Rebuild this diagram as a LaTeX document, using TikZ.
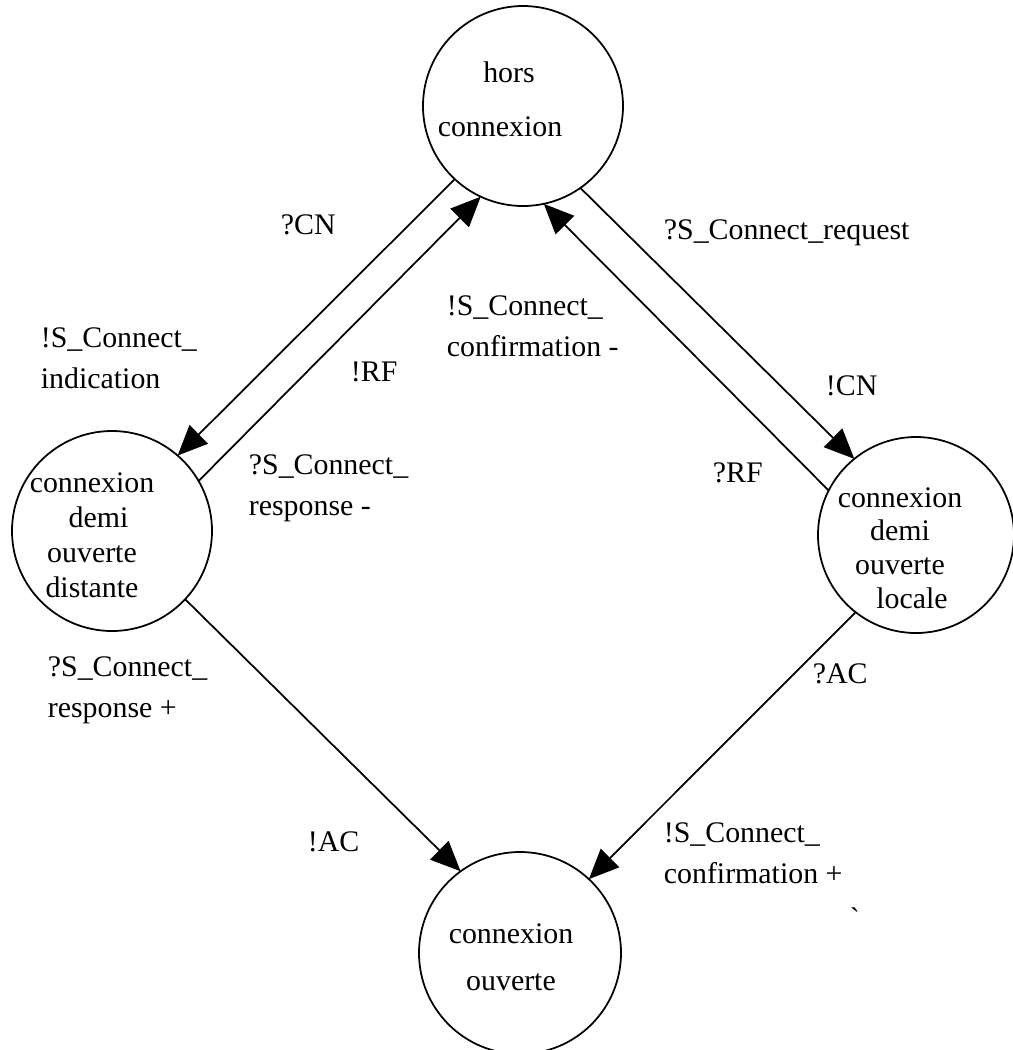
\documentclass[tikz,border=0pt]{standalone}
\usepackage{fontspec}
\setmainfont{Liberation Serif}
\usetikzlibrary{arrows.meta}

\begin{document}
\begin{tikzpicture}[x=0.2mm, y=-0.2mm, line width=1pt, >={Triangle[length=6mm, width=5.2mm]},
  font=\fontsize{17}{23.3}\selectfont,
  state/.style={draw, circle, inner sep=0pt, outer sep=0pt, minimum size=#1},
  state/.default=4cm,
  statetxt/.style={align=center, inner sep=0pt},
  lbl/.style={anchor=west, align=left, inner sep=0pt}]

\useasboundingbox (0,0) rectangle (1013,1050);

\node[state] (hors) at (523,106) {};
\node[state] (dist) at (112,531) {};
\node[state=3.92cm] (loc) at (916,535) {};
\node[state=4.04cm] (ouv) at (520,953) {};

\node[statetxt, font=\fontsize{17}{30.7}\selectfont] (horsTxt) at (500,99) {\hspace*{3.6mm}hors\\connexion};
\node[statetxt, font=\fontsize{17}{19.9}\selectfont] (distTxt) at (92,535) {connexion\\\hspace*{2.6mm}demi\\ouverte\\distante};
\node[statetxt, font=\fontsize{17}{19.1}\selectfont] (locTxt) at (900,548) {connexion\\demi\\ouverte\hspace*{3mm}\\\hspace*{4.8mm}locale};
\node[statetxt, font=\fontsize{17}{26.7}\selectfont] (ouvTxt) at (511,957) {connexion\\ouverte};

\draw[->] (hors.227) -- (dist.49);
\draw[->] (dist.30) -- (hors.245);
\draw[->] (hors.305) -- (loc.129);
\draw[->] (loc.153) -- (hors.282);
\draw[->] (dist.317) -- (ouv.126);
\draw[->] (loc.232) -- (ouv.47);

\node[lbl] (lCN) at (280,225) {?CN};
\node[lbl] (lIndic) at (40,358) {!S\_Connect\_\\indication};
\node[lbl] (lRF) at (350,372) {!RF};
\node[lbl] (lRespM) at (248,488) {?S\_Connect\_\\response -};
\node[lbl] (lConfM) at (446,326) {!S\_Connect\_\\confirmation -};
\node[lbl] (lReq) at (663,233) {?S\_Connect\_request};
\node[lbl] (lCN2) at (825,386) {!CN};
\node[lbl] (lRF2) at (712,473) {?RF};
\node[lbl] (lRespP) at (47,690) {?S\_Connect\_\\response +};
\node[lbl] (lAC) at (307,842) {!AC};
\node[lbl] (lAC2) at (812,674) {?AC};
\node[lbl] (lConfP) at (663,853) {!S\_Connect\_\\confirmation +};
\node[lbl] (lTick) at (849,918) {\textasciigrave};

\end{tikzpicture}
\end{document}
